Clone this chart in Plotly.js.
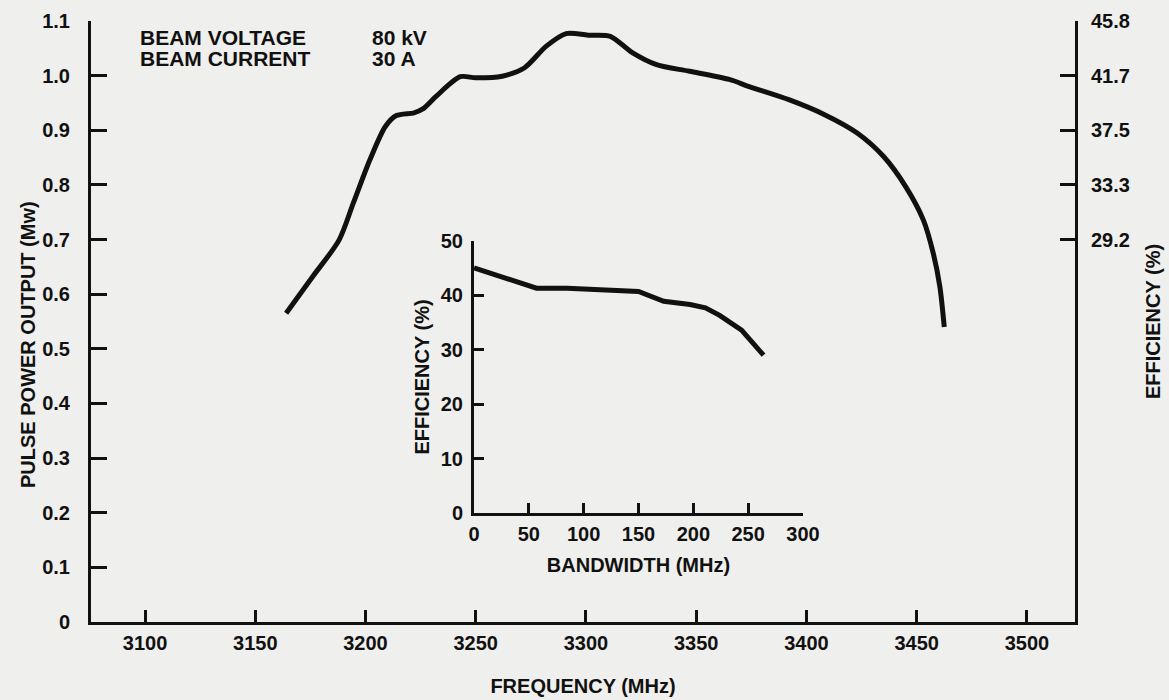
<!DOCTYPE html>
<html>
<head>
<meta charset="utf-8">
<script src="https://cdn.plot.ly/plotly-3.0.1.min.js"></script>
<style>
  html, body { margin: 0; padding: 0; background: #efefed; }
  #chart { width: 1169px; height: 700px; }
</style>
</head>
<body>
<div id="chart"></div>
<script>
// ---- Data ----
const frequencyMHz = [3164, 3176, 3188, 3194.5, 3202, 3209, 3214, 3222, 3226, 3232, 3243, 3250, 3262, 3272, 3282, 3291, 3301, 3311, 3321, 3332, 3347, 3365, 3374, 3392, 3408, 3423, 3435, 3445, 3453, 3457.5, 3460.5, 3462.5];
const pulsePowerMW = [0.565, 0.632, 0.699, 0.767, 0.846, 0.907, 0.927, 0.932, 0.939, 0.962, 0.998, 0.996, 0.999, 1.014, 1.054, 1.077, 1.074, 1.072, 1.042, 1.020, 1.008, 0.993, 0.980, 0.956, 0.929, 0.895, 0.852, 0.797, 0.736, 0.675, 0.614, 0.540];

const bandwidthMHz = [0, 30, 57, 85, 115, 150, 173, 197, 211, 224, 244, 264];
const efficiencyPct = [45.0, 43.0, 41.3, 41.3, 41.1, 40.7, 38.9, 38.3, 37.7, 36.3, 33.6, 29.0];

const freqTicks = [3100, 3150, 3200, 3250, 3300, 3350, 3400, 3450, 3500];
const powerTicks = [0, 0.1, 0.2, 0.3, 0.4, 0.5, 0.6, 0.7, 0.8, 0.9, 1.0, 1.1];
const powerTickText = ['0', '0.1', '0.2', '0.3', '0.4', '0.5', '0.6', '0.7', '0.8', '0.9', '1.0', '1.1'];
const effRightTicks = [0.7 / 2.4 * 100, 0.8 / 2.4 * 100, 0.9 / 2.4 * 100, 1.0 / 2.4 * 100, 1.1 / 2.4 * 100];
const effRightText = ['29.2', '33.3', '37.5', '41.7', '45.8'];
const bwTicks = [0, 50, 100, 150, 200, 250, 300];
const effTicks = [0, 10, 20, 30, 40, 50];

const beamLabels = ['BEAM VOLTAGE', 'BEAM CURRENT'];
const beamValues = ['80 kV', '30 A'];

// ---- Styling ----
const INK = '#111111';
const FONT = 'Liberation Sans, Arial, Helvetica, sans-serif';
const tickFont = { family: FONT, size: 20, color: INK, weight: 700 };
const titleFont = { family: FONT, size: 20, color: INK, weight: 700 };
const noteFont = { family: FONT, size: 21, color: INK, weight: 700 };

const traces = [
  {
    x: frequencyMHz, y: pulsePowerMW, xaxis: 'x', yaxis: 'y',
    type: 'scatter', mode: 'lines',
    line: { color: INK, width: 5, shape: 'spline', smoothing: 0.8 },
    hoverinfo: 'skip', showlegend: false
  },
  {
    x: bandwidthMHz, y: efficiencyPct, xaxis: 'x2', yaxis: 'y3',
    type: 'scatter', mode: 'lines',
    line: { color: INK, width: 5, shape: 'linear' },
    hoverinfo: 'skip', showlegend: false
  }
];

// plot area in pixels: x 91..1075, y 21..622
const L = 91, R = 1075, T = 21, B = 622;
const px = v => (v - L) / (R - L);
const py = v => (B - v) / (B - T);

const annotations = [];
beamLabels.forEach((t, i) => {
  annotations.push({ xref: 'paper', yref: 'paper', x: px(138), y: py(38 + i * 20.5), xanchor: 'left', yanchor: 'middle', text: t, showarrow: false, font: noteFont });
  annotations.push({ xref: 'paper', yref: 'paper', x: px(370), y: py(38 + i * 20.5), xanchor: 'left', yanchor: 'middle', text: beamValues[i], showarrow: false, font: noteFont });
});
// left axis title, placed where the reference has it
annotations.push({ xref: 'paper', yref: 'paper', x: px(28), y: py(345), xanchor: 'center', yanchor: 'middle', textangle: -90, text: 'PULSE POWER OUTPUT (Mw)', showarrow: false, font: titleFont });

const layout = {
  width: 1169, height: 700,
  margin: { l: L, r: 1169 - R, t: T, b: 700 - B, pad: 0 },
  paper_bgcolor: '#efefed', plot_bgcolor: '#efefed',
  showlegend: false,
  font: { family: FONT, color: INK },
  xaxis: {
    range: [3075.5, 3521.8], tickvals: freqTicks, ticktext: freqTicks.map(String),
    ticks: 'inside', ticklen: 12, tickwidth: 3, tickcolor: INK,
    showline: true, linewidth: 3, linecolor: INK, mirror: false,
    showgrid: false, zeroline: false, tickfont: tickFont, ticklabelstandoff: 1,
    title: { text: 'FREQUENCY (MHz)', font: titleFont, standoff: 26 },
    automargin: false
  },
  yaxis: {
    range: [0, 1.1], tickvals: powerTicks, ticktext: powerTickText,
    ticks: 'inside', ticklen: 16, tickwidth: 3, tickcolor: INK,
    showline: true, linewidth: 3, linecolor: INK,
    showgrid: false, zeroline: false, tickfont: tickFont, ticklabelstandoff: 14,
    automargin: false
  },
  yaxis2: {
    overlaying: 'y', side: 'right', anchor: 'x',
    range: [0, 1.1 / 2.4 * 100], tickvals: effRightTicks, ticktext: effRightText,
    ticks: 'inside', ticklen: 15, tickwidth: 3, tickcolor: INK,
    showline: true, linewidth: 3, linecolor: INK,
    showgrid: false, zeroline: false, tickfont: tickFont, ticklabelstandoff: 9,
    title: { text: 'EFFICIENCY (%)', font: titleFont, standoff: 18 },
    automargin: false
  },
  xaxis2: {
    domain: [px(474), px(803)], anchor: 'y3',
    range: [0, 300], tickvals: bwTicks, ticktext: bwTicks.map(String),
    ticks: 'inside', ticklen: 10, tickwidth: 3, tickcolor: INK,
    showline: true, linewidth: 3, linecolor: INK,
    showgrid: false, zeroline: false, tickfont: tickFont, ticklabelstandoff: 1,
    title: { text: 'BANDWIDTH (MHz)', font: titleFont, standoff: 14 },
    automargin: false
  },
  yaxis3: {
    domain: [py(513.3), py(240.7)], anchor: 'x2',
    range: [0, 50], tickvals: effTicks, ticktext: effTicks.map(String),
    ticks: 'inside', ticklen: 10, tickwidth: 3, tickcolor: INK,
    showline: true, linewidth: 3, linecolor: INK,
    showgrid: false, zeroline: false, tickfont: tickFont, ticklabelstandoff: 4,
    title: { text: 'EFFICIENCY (%)', font: titleFont, standoff: 6 },
    automargin: false
  },
  annotations: annotations
};

// invisible trace on yaxis2 so the right-hand efficiency scale renders
traces.push({ x: [3075.5], y: [0], xaxis: 'x', yaxis: 'y2', type: 'scatter', mode: 'markers', marker: { opacity: 0 }, hoverinfo: 'skip', showlegend: false });

Plotly.newPlot('chart', traces, layout, { staticPlot: true, displayModeBar: false });
</script>
</body>
</html>
